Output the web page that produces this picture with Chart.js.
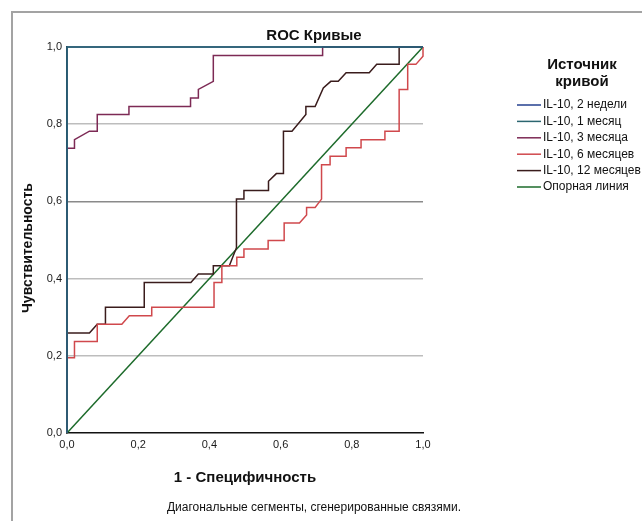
<!DOCTYPE html>
<html lang="ru">
<head>
  <meta charset="UTF-8">
  <title>ROC Кривые</title>
  <style>
    body {
      margin: 0;
      background: #fff;
    }
    #wrap {
      position: relative;
      width: 642px;
      height: 521px;
      overflow: hidden;
    }
    #frame {
      position: absolute;
      left: 11px;
      top: 11px;
      width: 700px;
      height: 600px;
      border-left: 2px solid #a3a3a3;
      border-top: 2px solid #a3a3a3;
    }
    #rocChart {
      position: absolute;
      left: 0;
      top: 0;
    }
  </style>
</head>
<body>
  <div id="wrap">
    <div id="frame"></div>
    <canvas id="rocChart" width="642" height="521"></canvas>
  </div>

  <script src="https://cdn.jsdelivr.net/npm/chart.js"></script>
  <script>
    // texts
    const chartTitle = 'ROC Кривые';
    const legendTitle = ['Источник', 'кривой'];
    const footnote = 'Диагональные сегменты, сгенерированные связями.';
    const xTitle = '1 - Специфичность';
    const yTitle = 'Чувствительность';
    const tickValues = [0, 0.2, 0.4, 0.6, 0.8, 1.0];

    const seriesLabels = ['IL-10, 2 недели', 'IL-10, 1 месяц', 'IL-10, 3 месяца',
                          'IL-10, 6 месяцев', 'IL-10, 12 месяцев', 'Опорная линия'];
    const seriesColors = ['#25408f', '#2b6670', '#7d2a55', '#d0484c', '#3a1c1c', '#1d6b2b'];

    // ROC points as [1 - specificity, sensitivity]
    const roc2w = [[0, 0], [0, 1], [1, 1]];
    const roc1m = [[0, 0], [0, 1], [1, 1]];
    const roc3m = [[0, 0], [0, 0.738], [0.021, 0.738], [0.021, 0.760], [0.063, 0.782], [0.085, 0.782],
                   [0.085, 0.825], [0.174, 0.825], [0.174, 0.846], [0.347, 0.846], [0.347, 0.868],
                   [0.369, 0.868], [0.369, 0.890], [0.411, 0.911], [0.411, 0.978], [0.718, 0.978],
                   [0.718, 1], [1, 1]];
    const roc6m = [[0, 0], [0, 0.195], [0.021, 0.195], [0.021, 0.237], [0.085, 0.237], [0.085, 0.282],
                   [0.154, 0.282], [0.175, 0.304], [0.238, 0.304], [0.238, 0.326], [0.413, 0.326],
                   [0.413, 0.390], [0.435, 0.390], [0.435, 0.433], [0.477, 0.433], [0.477, 0.455],
                   [0.497, 0.455], [0.497, 0.477], [0.565, 0.477], [0.565, 0.499], [0.610, 0.499],
                   [0.610, 0.544], [0.653, 0.544], [0.673, 0.565], [0.673, 0.584], [0.697, 0.584],
                   [0.715, 0.606], [0.715, 0.695], [0.739, 0.695], [0.739, 0.717], [0.784, 0.717],
                   [0.784, 0.739], [0.826, 0.739], [0.826, 0.760], [0.893, 0.760], [0.893, 0.782],
                   [0.933, 0.782], [0.933, 0.890], [0.957, 0.890], [0.957, 0.955], [0.980, 0.955],
                   [1, 0.976], [1, 1]];
    const roc12m = [[0, 0], [0, 0.259], [0.063, 0.259], [0.085, 0.282], [0.108, 0.282], [0.108, 0.326],
                    [0.217, 0.326], [0.217, 0.390], [0.348, 0.390], [0.369, 0.412], [0.411, 0.412],
                    [0.411, 0.433], [0.456, 0.433], [0.476, 0.480], [0.476, 0.606], [0.497, 0.606],
                    [0.497, 0.628], [0.566, 0.628], [0.566, 0.652], [0.588, 0.672], [0.608, 0.672],
                    [0.608, 0.782], [0.632, 0.782], [0.671, 0.825], [0.671, 0.846], [0.697, 0.846],
                    [0.720, 0.894], [0.741, 0.911], [0.762, 0.911], [0.784, 0.933], [0.849, 0.933],
                    [0.870, 0.955], [0.933, 0.955], [0.933, 1], [1, 1]];
    const rocRef = [[0, 0], [1, 1]];

    const allSeries = [roc2w, roc1m, roc3m, roc6m, roc12m, rocRef];
    const drawOrder = [1, 0, 2, 3, 4, 5]; // 1 месяц on top, like the reference

    const FONT = "'Liberation Sans', Arial, sans-serif";
    Chart.defaults.font.family = FONT;
    Chart.defaults.color = '#1a1a1a';

    const fmt = v => v.toFixed(1).replace('.', ',');

    // title, y title, legend and footnote drawn on the canvas
    const extraText = {
      id: 'extraText',
      afterDraw(chart) {
        const ctx = chart.ctx;
        ctx.save();
        ctx.fillStyle = '#111';
        ctx.textBaseline = 'middle';

        ctx.font = 'bold 15px ' + FONT;
        ctx.textAlign = 'center';
        ctx.fillText(chartTitle, 314, 36);

        ctx.fillText(legendTitle[0], 582, 65);
        ctx.fillText(legendTitle[1], 582, 82);

        ctx.save();
        ctx.translate(28, 248);
        ctx.rotate(-Math.PI / 2);
        ctx.font = 'bold 14px ' + FONT;
        ctx.fillText(yTitle, 0, 0);
        ctx.restore();

        ctx.font = '12px ' + FONT;
        ctx.textAlign = 'left';
        chart.data.datasets.forEach((ds, i) => {
          const y = 105 + i * 16.4;
          ctx.strokeStyle = ds.borderColor;
          ctx.lineWidth = 1.5;
          ctx.beginPath();
          ctx.moveTo(517, y);
          ctx.lineTo(541, y);
          ctx.stroke();
          ctx.fillText(ds.label, 543, y);
        });

        ctx.textAlign = 'center';
        ctx.fillText(footnote, 314, 508);
        ctx.restore();
      }
    };

    function gridColor(c) {
      const v = c.tick.value;
      if (v <= 0.001 || v >= 0.999) return 'rgba(0,0,0,0)';
      if (Math.abs(v - 0.6) < 0.001) return '#8a8a8a';
      return '#bdbdbd';
    }

    const ctx = document.getElementById('rocChart').getContext('2d');
    new Chart(ctx, {
      type: 'line',
      data: {
        datasets: allSeries.map((pts, i) => ({
          label: seriesLabels[i],
          data: pts.map(p => ({ x: p[0], y: p[1] })),
          borderColor: seriesColors[i],
          borderWidth: 1.5,
          pointRadius: 0,
          tension: 0,
          fill: false,
          clip: 6,
          order: drawOrder[i]
        }))
      },
      options: {
        responsive: false,
        animation: false,
        devicePixelRatio: 1,
        layout: { padding: { top: 47, right: 219, bottom: 0, left: 0 } },
        plugins: {
          legend: { display: false },
          tooltip: { enabled: false }
        },
        scales: {
          x: {
            type: 'linear',
            min: 0,
            max: 1,
            afterFit: s => { s.height = 88; },
            afterBuildTicks: s => { s.ticks = tickValues.map(v => ({ value: v })); },
            ticks: {
              callback: v => fmt(v),
              font: { size: 11 },
              padding: 5,
              maxRotation: 0
            },
            grid: { display: false, drawTicks: false },
            border: { color: '#111', width: 1.5 },
            title: {
              display: true,
              text: xTitle,
              font: { size: 15, weight: 'bold' },
              color: '#111',
              padding: { top: 0, bottom: 34 }
            }
          },
          y: {
            type: 'linear',
            min: 0,
            max: 1,
            afterFit: s => { s.width = 67; },
            afterBuildTicks: s => { s.ticks = tickValues.map(v => ({ value: v })); },
            ticks: {
              callback: v => fmt(v),
              font: { size: 11 },
              padding: 5
            },
            grid: { color: gridColor, lineWidth: 1.5, drawTicks: false },
            border: { color: '#111', width: 1.5 },
            title: { display: false }
          }
        }
      },
      plugins: [extraText]
    });
  </script>
</body>
</html>
